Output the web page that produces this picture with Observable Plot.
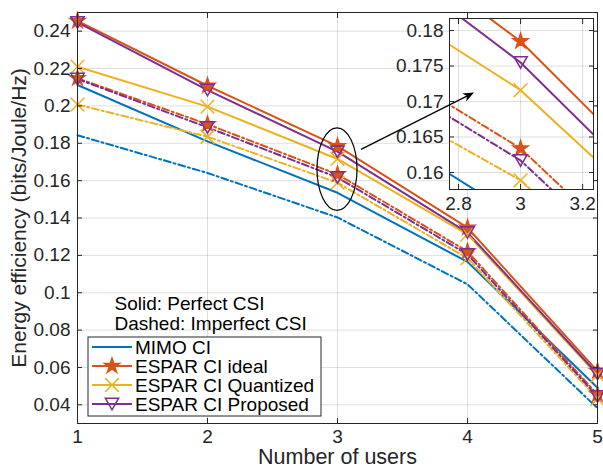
<!DOCTYPE html>
<html><head><meta charset="utf-8">
<script src="https://cdn.jsdelivr.net/npm/d3@7"></script>
<script src="https://cdn.jsdelivr.net/npm/@observablehq/plot@0.6"></script>
<style>
body{margin:0;background:#fff;font-family:"Liberation Sans",Arial,sans-serif;}
#wrap{position:relative;width:603px;height:468px;overflow:hidden;}
#wrap svg{position:absolute;}
</style></head><body><div id="wrap"></div>
<script>
// ---------- data ----------
const users = [1, 2, 3, 4, 5];
const seriesNames = ["MIMO CI", "ESPAR CI ideal", "ESPAR CI Quantized", "ESPAR CI Proposed"];
const seriesColors = ["#0072BD", "#D95319", "#EDB120", "#7E2F8E"];
// Solid: perfect CSI
const mimoPerfect      = [0.2112, 0.1810, 0.1535, 0.1165, 0.0491];
const idealPerfect     = [0.2455, 0.2108, 0.1785, 0.1348, 0.0580];
const quantPerfect     = [0.2210, 0.1996, 0.1716, 0.1312, 0.0558];
const proposedPerfect  = [0.2447, 0.2085, 0.1755, 0.1322, 0.0565];
// Dashed: imperfect CSI
const mimoImperfect     = [0.1843, 0.1641, 0.1403, 0.1045, 0.0382];
const idealImperfect    = [0.2148, 0.1902, 0.1634, 0.1221, 0.0455];
const quantImperfect    = [0.2007, 0.1835, 0.1589, 0.1185, 0.0432];
const proposedImperfect = [0.2144, 0.1885, 0.1617, 0.1205, 0.0445];

const xTicks = [1, 2, 3, 4, 5];
const xTickLabels = ["1", "2", "3", "4", "5"];
const yTicks = [0.04, 0.06, 0.08, 0.10, 0.12, 0.14, 0.16, 0.18, 0.20, 0.22, 0.24];
const yTickLabels = ["0.04", "0.06", "0.08", "0.1", "0.12", "0.14", "0.16", "0.18", "0.2", "0.22", "0.24"];
const insetXTicks = [2.8, 3.0, 3.2];
const insetXTickLabels = ["2.8", "3", "3.2"];
const insetYTicks = [0.16, 0.165, 0.17, 0.175, 0.18];
const insetYTickLabels = ["0.16", "0.165", "0.17", "0.175", "0.18"];
const xLabel = "Number of users";
const yLabel = "Energy efficiency (bits/Joule/Hz)";
const noteLines = ["Solid: Perfect CSI", "Dashed: Imperfect CSI"];

// ---------- build table ----------
const perfectArrays = [mimoPerfect, idealPerfect, quantPerfect, proposedPerfect];
const imperfectArrays = [mimoImperfect, idealImperfect, quantImperfect, proposedImperfect];
const rows = [];
seriesNames.forEach((name, s) => {
  users.forEach((u, i) => rows.push({users: u, ee: perfectArrays[s][i], series: name, csi: "Perfect"}));
  users.forEach((u, i) => rows.push({users: u, ee: imperfectArrays[s][i], series: name, csi: "Imperfect"}));
});

const triangleDown = {
  draw(ctx, size) {
    const a = Math.sqrt(size) * 0.75;      // half width
    const h = a * Math.sqrt(3);
    ctx.moveTo(-a, -h / 2);
    ctx.lineTo(a, -h / 2);
    ctx.lineTo(0, h / 2);
    ctx.closePath();
  }
};
const markerSpec = [
  null,
  {symbol: "star", r: 4.7, fill: true},
  {symbol: "times", r: 6.3, fill: false},
  {symbol: triangleDown, r: 5, fill: false}
];

const FONT = "'Liberation Sans', Arial, sans-serif";
const AX = "#262626";
const GRID = {stroke: "#000", strokeOpacity: 0.13, strokeWidth: 1};
const DASH = "7,3,2,3";

function seriesMarks(clip) {
  const marks = [];
  const perfect = rows.filter(d => d.csi === "Perfect");
  const imperfect = rows.filter(d => d.csi === "Imperfect");
  marks.push(Plot.line(perfect, {x: "users", y: "ee", z: "series", stroke: "series", strokeWidth: 2, clip}));
  marks.push(Plot.line(imperfect, {x: "users", y: "ee", z: "series", stroke: "series", strokeWidth: 2, strokeDasharray: DASH, clip}));
  seriesNames.forEach((name, s) => {
    const m = markerSpec[s];
    if (!m) return;
    marks.push(Plot.dot(rows.filter(d => d.series === name), {
      x: "users", y: "ee", symbol: () => m.symbol, r: m.r,
      stroke: seriesColors[s], fill: m.fill ? seriesColors[s] : "none", strokeWidth: 1.5, clip
    }));
  });
  return marks;
}

// ---------- main chart ----------
const W = 603, H = 468;
const main = Plot.plot({
  width: W, height: H,
  marginLeft: 77, marginRight: 6, marginTop: 12, marginBottom: 45,
  style: {fontFamily: FONT, fontSize: "19px", color: AX, background: "transparent", overflow: "visible"},
  x: {domain: [1, 5]},
  y: {domain: [0.03, 0.25]},
  color: {domain: seriesNames, range: seriesColors},
  symbol: {type: "identity"},
  marks: [
    Plot.gridX(xTicks, GRID),
    Plot.gridY(yTicks, GRID),
    Plot.text([noteLines.join("\n")], {text: d => d, frameAnchor: "top-left", dx: 37, dy: 283, lineAnchor: "top", textAnchor: "start", lineHeight: 1.05, fontSize: 19, fill: "#000"}),
    ...seriesMarks(false),
    Plot.frame({stroke: AX, strokeWidth: 1}),
    Plot.axisX(xTicks, {anchor: "bottom", tickSize: -5, tickPadding: 11, tickFormat: d => xTickLabels[xTicks.indexOf(d)], label: null, stroke: AX, fill: AX}),
    Plot.axisX(xTicks, {anchor: "top", tickSize: -5, tickFormat: () => "", label: null, stroke: AX}),
    Plot.axisY(yTicks, {anchor: "left", tickSize: -5, tickPadding: 12, tickFormat: d => yTickLabels[yTicks.indexOf(d)], label: null, stroke: AX, fill: AX}),
    Plot.axisY(yTicks, {anchor: "right", tickSize: -5, tickFormat: () => "", label: null, stroke: AX}),
    Plot.text([yLabel], {text: d => d, frameAnchor: "left", dx: -58, rotate: -90, fontSize: 21, fill: AX, textAnchor: "middle", lineAnchor: "middle"}),
    Plot.text([xLabel], {text: d => d, frameAnchor: "bottom", dy: 34, fontSize: 21.5, fill: AX, textAnchor: "middle", lineAnchor: "middle"})
  ]
});
main.style.left = "0px"; main.style.top = "0px";
document.getElementById("wrap").appendChild(main);

// ---------- inset ----------
const inL = 50, inT = 5, inR = 5, inB = 28;
const inW = 144 + inL + inR, inH = 171 + inT + inB;
const inset = Plot.plot({
  width: inW, height: inH,
  marginLeft: inL, marginRight: inR, marginTop: inT, marginBottom: inB,
  style: {fontFamily: FONT, fontSize: "19px", color: AX, background: "transparent", overflow: "visible"},
  x: {domain: [2.771, 3.235]},
  y: {domain: [0.1576, 0.1817]},
  color: {domain: seriesNames, range: seriesColors},
  marks: [
    Plot.frame({fill: "white"}),
    Plot.gridX(insetXTicks, GRID),
    Plot.gridY(insetYTicks, GRID),
    ...seriesMarks(true),
    Plot.frame({stroke: AX, strokeWidth: 1}),
    Plot.axisX(insetXTicks, {anchor: "bottom", tickSize: -5, tickPadding: 12, tickFormat: d => insetXTickLabels[insetXTicks.indexOf(d)], label: null, stroke: AX, fill: AX}),
    Plot.axisX(insetXTicks, {anchor: "top", tickSize: -5, tickFormat: () => "", label: null, stroke: AX}),
    Plot.axisY(insetYTicks, {anchor: "left", tickSize: -5, tickPadding: 11, tickFormat: d => insetYTickLabels[insetYTicks.indexOf(d)], label: null, stroke: AX, fill: AX}),
    Plot.axisY(insetYTicks, {anchor: "right", tickSize: -5, tickFormat: () => "", label: null, stroke: AX})
  ]
});
inset.style.left = (449 - inL) + "px"; inset.style.top = (18 - inT) + "px";
document.getElementById("wrap").appendChild(inset);

// ---------- annotations (ellipse + arrow) in main data coordinates ----------
const zoomEllipse = {users: 3, ee: 0.1659, rx: 0.154, ry: 0.0221};
const zoomArrow = {x1: 3.185, y1: 0.1765, x2: 4.054, y2: 0.2069};
const mx = main.scale("x"), my = main.scale("y");
const sx = d3.scaleLinear(mx.domain, mx.range), sy = d3.scaleLinear(my.domain, my.range);
const ov = d3.create("svg").attr("width", W).attr("height", H).style("left", "0px").style("top", "0px").style("overflow", "visible");
ov.append("ellipse")
  .attr("cx", sx(zoomEllipse.users)).attr("cy", sy(zoomEllipse.ee))
  .attr("rx", sx(zoomEllipse.users + zoomEllipse.rx) - sx(zoomEllipse.users))
  .attr("ry", sy(zoomEllipse.ee - zoomEllipse.ry) - sy(zoomEllipse.ee))
  .attr("fill", "none").attr("stroke", "#000").attr("stroke-width", 1.2);
{
  const x1 = sx(zoomArrow.x1), y1 = sy(zoomArrow.y1), x2 = sx(zoomArrow.x2), y2 = sy(zoomArrow.y2);
  const ang = Math.atan2(y2 - y1, x2 - x1), L = 11, Wd = 4.5, back = 8;
  ov.append("line").attr("x1", x1).attr("y1", y1)
    .attr("x2", x2 - back * Math.cos(ang)).attr("y2", y2 - back * Math.sin(ang))
    .attr("stroke", "#000").attr("stroke-width", 1.3);
  const p = (d, w) => [x2 - d * Math.cos(ang) - w * Math.sin(ang), y2 - d * Math.sin(ang) + w * Math.cos(ang)];
  const pts = [[x2, y2], p(L, Wd), p(back, 0), p(L, -Wd)];
  ov.append("path").attr("d", "M" + pts.map(q => q.join(",")).join("L") + "Z").attr("fill", "#000");
}
document.getElementById("wrap").appendChild(ov.node());

// ---------- legend ----------
const lg = d3.create("svg").attr("width", W).attr("height", H).style("left", "0px").style("top", "0px");
const box = {x: 88, y: 337, w: 233, h: 79};
lg.append("rect").attr("x", box.x).attr("y", box.y).attr("width", box.w).attr("height", box.h)
  .attr("fill", "white").attr("stroke", AX).attr("stroke-width", 1);
seriesNames.forEach((name, s) => {
  const cy = box.y + 10 + s * 19;
  lg.append("line").attr("x1", box.x + 4).attr("x2", box.x + 44).attr("y1", cy).attr("y2", cy)
    .attr("stroke", seriesColors[s]).attr("stroke-width", 2);
  const m = markerSpec[s];
  if (m) {
    const sym = typeof m.symbol === "string" ? ({star: d3.symbolStar, times: d3.symbolTimes})[m.symbol] : m.symbol;
    lg.append("path").attr("d", d3.symbol(sym, Math.PI * m.r * m.r)())
      .attr("transform", `translate(${box.x + 24},${cy})`)
      .attr("stroke", seriesColors[s]).attr("stroke-width", 1.5)
      .attr("fill", m.fill ? seriesColors[s] : "none");
  }
  lg.append("text").attr("x", box.x + 47).attr("y", cy).attr("dy", "0.35em")
    .attr("font-family", FONT).attr("font-size", 19).attr("fill", "#000").text(name);
});
document.getElementById("wrap").appendChild(lg.node());
</script>
</body></html>
